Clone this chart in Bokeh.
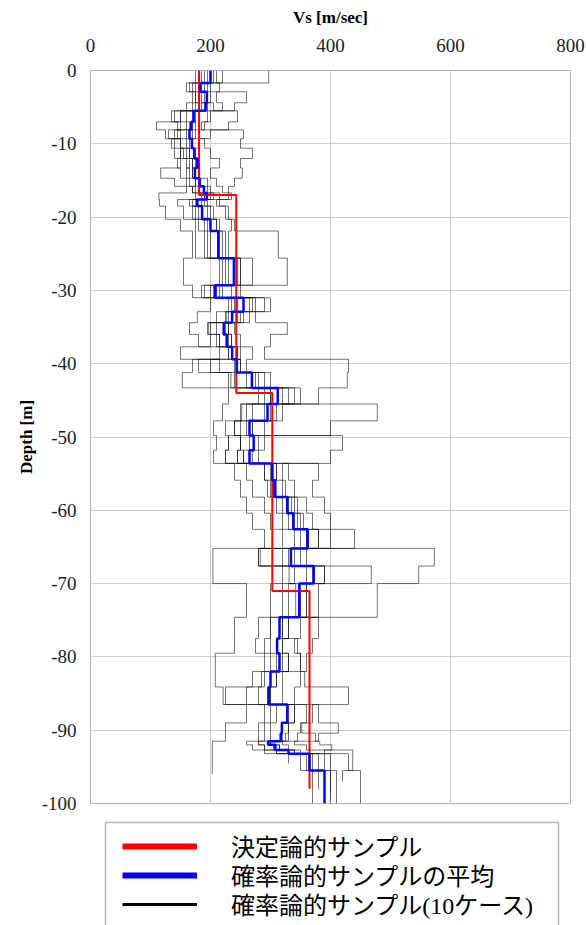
import numpy as np
from bokeh.plotting import figure
from bokeh.layouts import column
from bokeh.models import (Range1d, FixedTicker, Legend, LegendItem, PrintfTickFormatter,
                          BoxAnnotation)
from bokeh.embed import file_html
from bokeh.resources import INLINE

# ---------------- data ----------------
# layer boundaries (depth, m, positive downward) shared by the probabilistic cases and their mean
layer_bounds = [0, 1.7, 2.9, 4.4, 5.5, 7.0, 8.1, 9.3, 10.6, 12.0, 13.3, 14.7, 15.8, 16.7,
                17.6, 18.5, 20.3, 21.9, 25.6, 29.3, 31.0, 32.9, 34.4, 36.0, 37.7, 39.4,
                41.2, 43.3, 45.5, 47.8, 49.8, 51.8, 53.6, 55.9, 58.2, 60.4, 62.6, 65.2,
                67.6, 70.0, 74.6, 77.5, 79.5, 82.0, 84.1, 86.5, 89.0, 90.4, 91.5, 92.0,
                92.7, 93.2, 95.5, 100]

# mean of probabilistic samples (blue)
mean_vs = [200, 183, 194, 192, 172, 168, 165, 169, 173, 178,
           174, 182, 189, 194, 177, 186, 200, 213, 239, 208,
           255, 236, 222, 227, 236, 244, 269, 312, 295, 265,
           272, 265, 303, 308, 328, 338, 362, 334, 372, 348,
           315, 311, 315, 300, 297, 328, 319, 317, 296, 308,
           330, 365, 390]

# deterministic sample (red)
det_bounds = [0, 17, 44, 71, 98]
det_vs = [181, 243, 303, 365]

# probabilistic sample cases (10 cases)
case_01 = [297, 200, 260, 240, 200, 190, 175, 170, 165, 175,
           170, 180, 195, 200, 185, 200, 210, 225, 250, 215,
           270, 245, 230, 235, 245, 250, 275, 330, 300, 270,
           280, 270, 310, 320, 340, 350, 380, 340, 390, 360,
           330, 320, 330, 310, 300, 340, 330, 325, 300, 315,
           340, 380, 400]
case_02 = [205, 175, 180, 175, 150, 110, 125, 140, 150, 160,
           165, 175, 180, 190, 170, 180, 195, 200, 220, 190,
           240, 230, 210, 215, 230, 240, 260, 300, 270, 240,
           250, 245, 290, 295, 310, 320, 340, 320, 360, 330,
           300, 290, 300, 285, 280, 310, 300, 300, 280, 290,
           310, 350, 370]
case_03 = [190, 190, 185, 190, 175, 170, 160, 190, 200, 215,
           200, 210, 220, 230, 210, 225, 240, 313, 328, 250,
           300, 275, 328, 300, 290, 430, 428, 380, 290, 260,
           265, 255, 380, 370, 390, 400, 440, 330, 370, 350,
           380, 370, 360, 350, 340, 380, 413, 380, 340, 360,
           437, 437, 420]
case_04 = [175, 160, 170, 160, 140, 145, 150, 135, 140, 150,
           117, 140, 160, 114, 115, 125, 150, 170, 155, 170,
           200, 178, 165, 180, 215, 170, 153, 230, 220, 205,
           210, 205, 240, 250, 260, 270, 290, 204, 204, 260,
           240, 240, 208, 208, 221, 260, 225, 225, 203, 203,
           203, 203, 203]
case_05 = [210, 215, 210, 220, 195, 185, 255, 250, 270, 250,
           253, 240, 230, 235, 215, 230, 235, 230, 270, 235,
           290, 265, 240, 250, 270, 260, 300, 350, 320, 290,
           290, 280, 330, 340, 360, 370, 400, 360, 468, 380,
           350, 340, 350, 320, 320, 360, 350, 345, 320, 330,
           350, 400, 410]
case_06 = [200, 180, 190, 205, 245, 230, 200, 180, 175, 170,
           180, 195, 200, 215, 195, 205, 215, 220, 245, 210,
           265, 250, 225, 230, 250, 245, 280, 320, 478, 400,
           230, 225, 300, 305, 330, 340, 360, 280, 331, 342,
           320, 310, 320, 300, 295, 330, 320, 320, 295, 305,
           330, 370, 390]
case_07 = [185, 170, 175, 170, 160, 160, 145, 150, 155, 165,
           160, 165, 170, 185, 165, 175, 190, 195, 230, 185,
           230, 210, 195, 200, 150, 215, 240, 280, 250, 225,
           230, 225, 260, 270, 290, 300, 320, 280, 320, 300,
           280, 275, 290, 270, 260, 290, 280, 280, 260, 270,
           290, 330, 350]
case_08 = [195, 195, 200, 195, 170, 175, 170, 165, 160, 180,
           175, 180, 190, 205, 190, 195, 210, 215, 250, 220,
           275, 255, 230, 235, 245, 250, 290, 340, 310, 270,
           420, 400, 320, 325, 345, 355, 380, 350, 390, 360,
           330, 320, 330, 310, 300, 340, 330, 330, 300, 315,
           340, 390, 400]
case_09 = [220, 185, 195, 185, 150, 165, 140, 160, 150, 145,
           150, 160, 175, 190, 180, 170, 180, 190, 215, 200,
           245, 225, 200, 215, 235, 180, 230, 290, 260, 240,
           250, 245, 290, 300, 320, 330, 350, 573, 547, 478,
           300, 300, 310, 290, 225, 300, 290, 290, 280, 290,
           310, 360, 380]
case_10 = [180, 165, 175, 180, 135, 150, 130, 150, 165, 170,
           170, 175, 170, 175, 145, 155, 175, 175, 225, 205,
           235, 227, 197, 210, 230, 200, 234, 300, 252, 250,
           250, 255, 310, 305, 335, 345, 360, 283, 340, 320,
           320, 345, 350, 357, 430, 370, 352, 375, 382, 402,
           390, 430, 450]
case_bottoms = [98.5, 100, 97, 96, 100, 99, 94.5, 100, 98, 100]

x_ticks = [0, 200, 400, 600, 800]
y_ticks = [0, -10, -20, -30, -40, -50, -60, -70, -80, -90, -100]

legend_labels = ["決定論的サンプル", "確率論的サンプルの平均", "確率論的サンプル(10ケース)"]


def step_profile(bounds, values, bottom=None):
    xs, ys = [], []
    for top, bot, v in zip(bounds[:-1], bounds[1:], values):
        if bottom is not None:
            if top >= bottom:
                break
            bot = min(bot, bottom)
        xs += [v, v]
        ys += [-top, -bot]
    return xs, ys


cases = [case_01, case_02, case_03, case_04, case_05,
         case_06, case_07, case_08, case_09, case_10]
case_xs, case_ys = [], []
for c, b in zip(cases, case_bottoms):
    xs, ys = step_profile(layer_bounds, c, b)
    case_xs.append(xs)
    case_ys.append(ys)

det_x, det_y = step_profile(det_bounds, det_vs)
mean_x, mean_y = step_profile(layer_bounds, mean_vs)

# ---------------- main figure ----------------
SERIF = "Liberation Serif"
W = 586
H_MAIN = 817
H_LEG = 925 - H_MAIN
FRAME_L, FRAME_R = 90, 570   # frame edges in page px (the legend strip's frame is aligned to them)

p = figure(width=W, height=H_MAIN,
           x_range=Range1d(0, 800), y_range=Range1d(-100, 0),
           x_axis_location="above",
           output_backend="svg", toolbar_location=None,
           min_border_left=FRAME_L, min_border_right=W - FRAME_R,
           min_border_top=70, min_border_bottom=14)

p.background_fill_color = "white"
p.border_fill_color = "white"
p.outline_line_color = "#b4b4b4"
p.outline_line_width = 1

p.xaxis.ticker = FixedTicker(ticks=x_ticks)
p.yaxis.ticker = FixedTicker(ticks=y_ticks)
p.xgrid.ticker = FixedTicker(ticks=x_ticks)
p.ygrid.ticker = FixedTicker(ticks=y_ticks)
p.yaxis.formatter = PrintfTickFormatter(format="%d")
p.grid.grid_line_color = "#cccccc"
p.grid.grid_line_width = 1

p.axis.axis_line_color = None
p.axis.major_tick_line_color = None
p.axis.minor_tick_line_color = None
p.axis.major_label_text_font = SERIF
p.axis.major_label_text_font_size = "19px"
p.axis.major_label_text_color = "#222222"
p.axis.axis_label_text_font = SERIF
p.axis.axis_label_text_font_style = "bold"
p.axis.axis_label_text_font_size = "17px"
p.axis.axis_label_text_color = "black"

p.xaxis.axis_label = "Vs [m/sec]"
p.xaxis.major_label_standoff = 13
p.xaxis.axis_label_standoff = 9
p.yaxis.axis_label = "Depth [m]"
p.yaxis.major_label_standoff = 8
p.yaxis.axis_label_standoff = 3

# probabilistic cases
p.multi_line(xs=case_xs, ys=case_ys, line_color="black", line_alpha=0.55, line_width=1)
# deterministic
p.line(det_x, det_y, line_color="#ff0000", line_width=2)
# mean
p.line(mean_x, mean_y, line_color="#0000ff", line_width=2.5)

# ---------------- legend strip ----------------
# no axes; its frame is aligned with the main frame, ranges are page px (x) and strip px (y, downward)
q = figure(width=W, height=H_LEG,
           x_range=Range1d(FRAME_L, FRAME_R), y_range=Range1d(H_LEG, 0),
           x_axis_location=None, y_axis_location=None,
           output_backend="svg", toolbar_location=None,
           min_border_left=FRAME_L, min_border_right=W - FRAME_R,
           min_border_top=0, min_border_bottom=0)
q.grid.visible = False
q.outline_line_color = None
q.background_fill_color = "white"
q.border_fill_color = "white"

# legend frame: open at the bottom, as the strip ends there
q.add_layout(BoxAnnotation(left=105, right=558, top=5, bottom=H_LEG + 20,
                           fill_color=None, fill_alpha=0,
                           line_color="black", line_width=1.5))

# legend sample renderers: a single undefined point each, so nothing is drawn in the strip
nan = float("nan")
leg_renderers = [
    q.line(x=[nan], y=[nan], line_color="#ff0000", line_width=6),
    q.line(x=[nan], y=[nan], line_color="#0000ff", line_width=6),
    q.line(x=[nan], y=[nan], line_color="black", line_width=3),
]
# one legend per entry so that the entries sit 29 px apart
leg_bottoms = [62, 33, 4]   # bottom edge of each entry, px above the strip's bottom
for label, rend, vy in zip(legend_labels, leg_renderers, leg_bottoms):
    q.add_layout(Legend(
        items=[LegendItem(label=label, renderers=[rend])],
        location=(122 - FRAME_L, vy),
        orientation="vertical",
        label_text_font=SERIF + ", Noto Sans CJK JP",
        label_text_font_size="24px",
        label_text_color="black",
        glyph_width=75, glyph_height=26, label_height=26,
        label_standoff=34,
        spacing=0, padding=0, margin=0,
        border_line_color=None,
        background_fill_alpha=0,
    ))

layout = column(p, q, spacing=0)
open("out.html", "w").write(file_html(layout, INLINE))
